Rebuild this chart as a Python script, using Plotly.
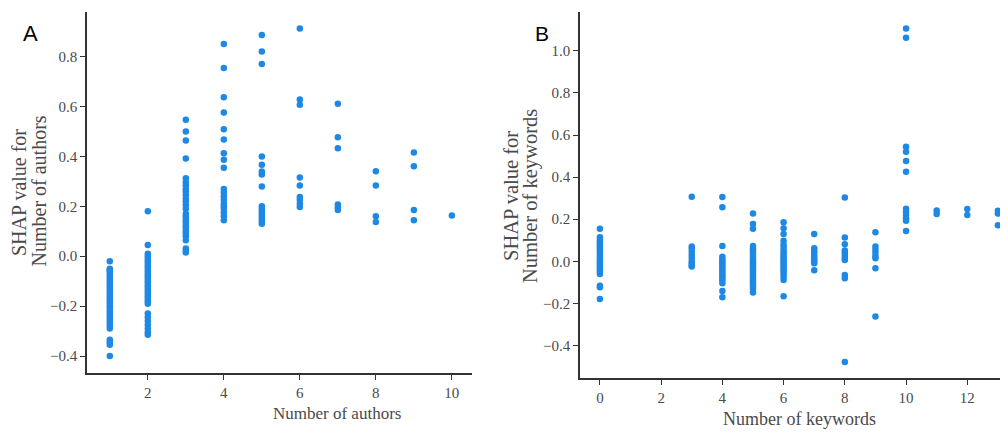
import plotly.graph_objects as go

# ---------------- Panel A data: Number of authors ----------------
authors_1 = [-0.02, -0.05, -0.055, -0.06, -0.07, -0.08, -0.09, -0.10, -0.11, -0.12, -0.13,
             -0.14, -0.15, -0.16, -0.17, -0.18, -0.19, -0.20, -0.21, -0.22, -0.23, -0.24,
             -0.25, -0.26, -0.27, -0.28, -0.29, -0.335, -0.345, -0.355, -0.40]
authors_2 = [0.18, 0.045, 0.01, 0.0, -0.01, -0.02, -0.03, -0.04, -0.05, -0.06, -0.07, -0.08,
             -0.09, -0.10, -0.11, -0.12, -0.13, -0.14, -0.15, -0.16, -0.17, -0.18, -0.19,
             -0.23, -0.245, -0.26, -0.275, -0.29, -0.305, -0.315]
authors_3 = [0.547, 0.50, 0.464, 0.392, 0.313, 0.297, 0.285, 0.27, 0.26, 0.245, 0.23, 0.22,
             0.205, 0.19, 0.17, 0.16, 0.15, 0.14, 0.13, 0.12, 0.11, 0.10, 0.09, 0.08, 0.064,
             0.031, 0.022, 0.015]
authors_4 = [0.851, 0.755, 0.637, 0.576, 0.509, 0.468, 0.413, 0.387, 0.355, 0.27, 0.255,
             0.24, 0.225, 0.21, 0.20, 0.19, 0.175, 0.16, 0.144]
authors_5 = [0.887, 0.821, 0.771, 0.40, 0.367, 0.34, 0.328, 0.28, 0.20, 0.19, 0.18, 0.17,
             0.16, 0.15, 0.14, 0.13]
authors_6 = [0.913, 0.628, 0.607, 0.316, 0.284, 0.237, 0.225, 0.21, 0.197]
authors_7 = [0.611, 0.477, 0.433, 0.207, 0.195, 0.185]
authors_8 = [0.341, 0.284, 0.16, 0.137]
authors_9 = [0.416, 0.361, 0.185, 0.144]
authors_10 = [0.163]

authors_groups = {1: authors_1, 2: authors_2, 3: authors_3, 4: authors_4, 5: authors_5,
                  6: authors_6, 7: authors_7, 8: authors_8, 9: authors_9, 10: authors_10}

# ---------------- Panel B data: Number of keywords ----------------
keywords_0 = [0.155, 0.114, 0.10, 0.09, 0.08, 0.07, 0.06, 0.05, 0.04, 0.03, 0.02, 0.01, 0.0,
              -0.01, -0.02, -0.03, -0.04, -0.05, -0.06, -0.117, -0.124, -0.179]
keywords_3 = [0.307, 0.07, 0.06, 0.045, 0.03, 0.015, 0.0, -0.01, -0.02, -0.025]
keywords_4 = [0.306, 0.257, 0.073, 0.022, 0.01, 0.0, -0.01, -0.02, -0.03, -0.04, -0.05,
              -0.06, -0.07, -0.08, -0.09, -0.105, -0.141, -0.171]
keywords_5 = [0.227, 0.177, 0.155, 0.073, 0.06, 0.05, 0.04, 0.03, 0.02, 0.01, 0.0, -0.01,
              -0.02, -0.03, -0.04, -0.05, -0.06, -0.07, -0.08, -0.09, -0.10, -0.11, -0.12,
              -0.13, -0.149]
keywords_6 = [0.185, 0.157, 0.13, 0.097, 0.078, 0.065, 0.05, 0.04, 0.03, 0.02, 0.01, 0.0,
              -0.01, -0.02, -0.03, -0.04, -0.05, -0.06, -0.075, -0.089, -0.166]
keywords_7 = [0.13, 0.062, 0.05, 0.04, 0.03, 0.02, 0.01, 0.0, -0.01, -0.043]
keywords_8 = [0.303, 0.113, 0.081, 0.051, 0.04, 0.03, 0.015, 0.006, -0.065, -0.081, -0.479]
keywords_9 = [0.138, 0.07, 0.055, 0.04, 0.025, 0.014, -0.033, -0.263]
keywords_10 = [1.106, 1.063, 0.544, 0.521, 0.477, 0.426, 0.25, 0.235, 0.22, 0.205, 0.193, 0.144]
keywords_11 = [0.241, 0.225]
keywords_12 = [0.249, 0.22]
keywords_13 = [0.24, 0.227, 0.171]

keywords_groups = {0: keywords_0, 3: keywords_3, 4: keywords_4, 5: keywords_5, 6: keywords_6,
                   7: keywords_7, 8: keywords_8, 9: keywords_9, 10: keywords_10,
                   11: keywords_11, 12: keywords_12, 13: keywords_13}

a_ticks_x = [2, 4, 6, 8, 10]
a_ticks_y = [-0.4, -0.2, 0.0, 0.2, 0.4, 0.6, 0.8]
b_ticks_x = [0, 2, 4, 6, 8, 10, 12]
b_ticks_y = [-0.4, -0.2, 0.0, 0.2, 0.4, 0.6, 0.8, 1.0]

a_xtitle = "Number of authors"
a_ytitle = ["SHAP value for", "Number of authors"]
b_xtitle = "Number of keywords"
b_ytitle = ["SHAP value for", "Number of keywords"]

def fmt(v):
    s = f"{v:.1f}"
    return s.replace("-", "\u2212")

def flatten(groups):
    xs, ys = [], []
    for k, vals in groups.items():
        xs += [k] * len(vals)
        ys += vals
    return xs, ys

# the page body has an 8px margin, so the figure is made 8px smaller and
# window positions are shifted by that offset
OFF = 8
W, H = 1008 - OFF, 433 - OFF
BLUE = "#1E88E5"
SERIF = "Liberation Serif"
TICKC = "#4a4a4a"

fig = go.Figure()
ax, ay = flatten(authors_groups)
bx, by = flatten(keywords_groups)
fig.add_trace(go.Scatter(x=ax, y=ay, mode="markers", xaxis="x", yaxis="y",
                         marker=dict(color=BLUE, size=6.5, line=dict(width=0)),
                         cliponaxis=False, showlegend=False))
fig.add_trace(go.Scatter(x=bx, y=by, mode="markers", xaxis="x2", yaxis="y2",
                         marker=dict(color=BLUE, size=6.5, line=dict(width=0)),
                         cliponaxis=False, showlegend=False))

def px_x(p):
    return (p - OFF) / W

def px_y(p):
    return 1 - (p - OFF) / H

axis_common = dict(showgrid=False, zeroline=False, showline=True, linecolor="#333333",
                   linewidth=1.5, ticks="outside", ticklen=5, tickwidth=1.2,
                   tickcolor="#333333", tickfont=dict(family=SERIF, size=15, color=TICKC),
                   mirror=False, automargin=False)

fig.update_layout(
    template="none",
    width=W, height=H, margin=dict(l=0, r=0, t=0, b=0, pad=0),
    paper_bgcolor="white", plot_bgcolor="white",
    font=dict(family=SERIF, color=TICKC),
    xaxis=dict(domain=[px_x(87), px_x(472)], range=[0.40, 10.53], anchor="y",
               tickvals=a_ticks_x, ticktext=[str(v) for v in a_ticks_x], **axis_common),
    yaxis=dict(domain=[px_y(373), px_y(12)], range=[-0.468, 0.979], anchor="x",
               tickvals=a_ticks_y, ticktext=[fmt(v) for v in a_ticks_y], **axis_common),
    xaxis2=dict(domain=[px_x(580), 1.0], range=[-0.65, 13.33], anchor="y2",
                tickvals=b_ticks_x, ticktext=[str(v) for v in b_ticks_x], **axis_common),
    yaxis2=dict(domain=[px_y(378), px_y(12)], range=[-0.555, 1.185], anchor="x2",
                tickvals=b_ticks_y, ticktext=[fmt(v) for v in b_ticks_y], **axis_common),
)

annos = [
    dict(text=a_xtitle, x=px_x(337), y=px_y(413),
         font=dict(family=SERIF, size=17, color=TICKC), textangle=0),
    dict(text=b_xtitle, x=px_x(799), y=px_y(419),
         font=dict(family=SERIF, size=18, color=TICKC), textangle=0),
    dict(text=a_ytitle[0], x=px_x(19), y=px_y(193),
         font=dict(family=SERIF, size=20, color=TICKC), textangle=-90),
    dict(text=a_ytitle[1], x=px_x(38.5), y=px_y(191),
         font=dict(family=SERIF, size=20, color=TICKC), textangle=-90),
    dict(text=b_ytitle[0], x=px_x(511), y=px_y(196),
         font=dict(family=SERIF, size=20.5, color=TICKC), textangle=-90),
    dict(text=b_ytitle[1], x=px_x(530), y=px_y(196),
         font=dict(family=SERIF, size=20.5, color=TICKC), textangle=-90),
    dict(text="A", x=px_x(30), y=px_y(33),
         font=dict(family="Liberation Sans", size=22, color="black"), textangle=0),
    dict(text="B", x=px_x(541.5), y=px_y(34),
         font=dict(family="Liberation Sans", size=21, color="black"), textangle=0),
]
for a in annos:
    fig.add_annotation(xref="paper", yref="paper", showarrow=False,
                       xanchor="center", yanchor="middle", **a)

fig.write_html("out.html")
